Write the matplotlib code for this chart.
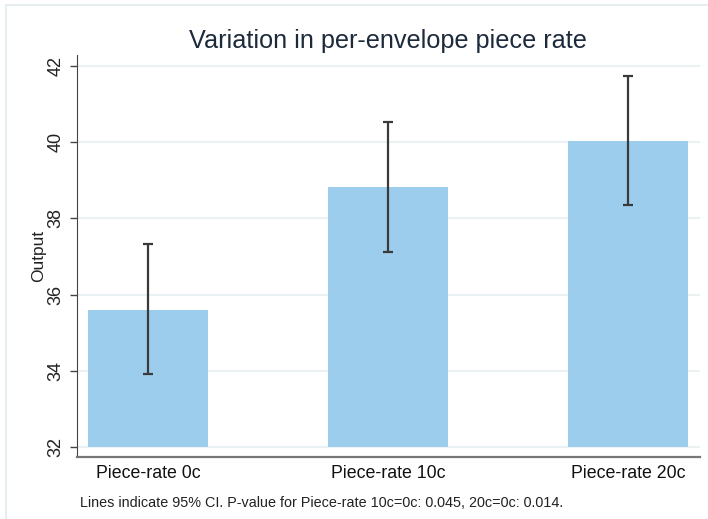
import numpy as np
import matplotlib
matplotlib.use('Agg')
import matplotlib.pyplot as plt
from matplotlib.patches import Rectangle

'''Data'''
groups = ['Piece-rate 0c', 'Piece-rate 10c', 'Piece-rate 20c']
means = [35.6, 38.82, 40.03]
ci_low = [33.92, 37.12, 38.35]
ci_high = [37.33, 40.54, 41.73]
yticks = [32, 34, 36, 38, 40, 42]

plt.rcParams['font.family'] = ['Liberation Sans', 'DejaVu Sans']

fig = plt.figure(figsize=(7.08, 5.19), dpi=100)
# outer graph-region frame (Stata style)
fig.patches.append(Rectangle((6/708, -0.05), 1.1, 1 - 5/519 + 0.05,
                             transform=fig.transFigure, fill=False,
                             edgecolor='#e6eef2', lw=1.5, zorder=0))
ax = fig.add_axes([77/708, 1 - 457/519, 623/708, 402/519])

x = np.arange(len(groups))
m = np.array(means)
err = [m - np.array(ci_low), np.array(ci_high) - m]

ax.bar(x, m - 32, bottom=32, width=0.5, color='#9dcdec', zorder=2)
ax.errorbar(x, m, yerr=err, fmt='none', ecolor='#3a3a3a', elinewidth=1.6,
            capsize=3.3, capthick=1.6, zorder=3)

ax.set_xlim(-0.296, 2.3)
ax.set_ylim(31.74, 42.29)
ax.set_yticks(yticks)
ax.set_yticklabels([str(t) for t in yticks], rotation=90, va='center',
                   fontsize=13, color='#222222')
ax.set_xticks(x)
ax.set_xticklabels(groups, fontsize=12.8, color='#111111')
ax.tick_params(axis='x', length=0, pad=6)
ax.tick_params(axis='y', length=5, width=1, color='#444444', pad=4)
ax.grid(axis='y', color='#eaf2f4', lw=1.5, zorder=0)
ax.set_axisbelow(True)

for s in ['top', 'right']:
    ax.spines[s].set_visible(False)
ax.spines['left'].set_color('#444444')
ax.spines['bottom'].set_color('#777777')
ax.spines['bottom'].set_linewidth(1.6)

ax.set_ylabel('Output', fontsize=12.5, color='#222222', labelpad=1)
fig.text(388/708, 1 - 41/519, 'Variation in per-envelope piece rate',
         ha='center', va='center', fontsize=18.2, color='#1c2a3c')
fig.text(80/708, 1 - 503/519,
         'Lines indicate 95% CI. P-value for Piece-rate 10c=0c: 0.045, 20c=0c: 0.014.',
         ha='left', va='center', fontsize=10.4, color='#222222')

plt.savefig('out.png', dpi=100)
